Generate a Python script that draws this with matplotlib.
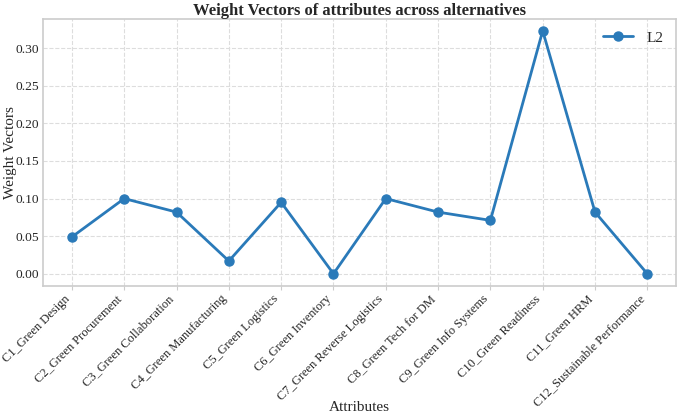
import matplotlib
matplotlib.use("Agg")
import matplotlib.pyplot as plt
import seaborn as sns

attributes = ["C1_Green Design", "C2_Green Procurement", "C3_Green Collaboration",
              "C4_Green Manufacturing", "C5_Green Logistics", "C6_Green Inventory",
              "C7_Green Reverse Logistics", "C8_Green Tech for DM",
              "C9_Green Info Systems", "C10_Green Readiness", "C11_Green HRM",
              "C12_Sustainable Performance"]
l2_weights = [0.049, 0.100, 0.082, 0.017, 0.095, 0.000, 0.100, 0.082, 0.071,
              0.323, 0.082, 0.000]

sns.set_style("whitegrid")
plt.rcParams['font.family'] = ['Liberation Serif', 'DejaVu Serif']

fig, ax = plt.subplots(figsize=(6.85, 4.15), dpi=100)
fig.subplots_adjust(left=0.063, right=0.987, top=0.955, bottom=0.311)

ax.plot(attributes, l2_weights, marker='o', color='#2a7ab9', linewidth=2,
        markersize=6.5, label='L2')

ax.set_title("Weight Vectors of attributes across alternatives",
             fontsize=12, fontweight='bold', pad=3)
ax.set_xlabel("Attributes", fontsize=11)
ax.set_ylabel("Weight Vectors", fontsize=11)
ax.xaxis.set_label_coords(0.5, -0.432)
ax.yaxis.set_label_coords(-0.041, 0.5)
ax.set_yticks([0.0, 0.05, 0.10, 0.15, 0.20, 0.25, 0.30])
ax.set_yticklabels([f"{v:.2f}" for v in ax.get_yticks()])
plt.setp(ax.get_xticklabels(), rotation=45, ha='right')
ax.tick_params(axis='y', labelsize=9.7, pad=3, length=0)
ax.tick_params(axis='x', labelsize=9, pad=2, bottom=True, length=3,
               color='#cccccc')
ax.grid(True, linestyle='--', color='#dddddd', linewidth=0.8)
for s in ax.spines.values():
    s.set_color('#cccccc')
    s.set_linewidth(1.2)
ax.legend(loc='upper right', frameon=False, fontsize=11,
          borderaxespad=0.4, handletextpad=0.9)

fig.savefig("out.png", dpi=100)
